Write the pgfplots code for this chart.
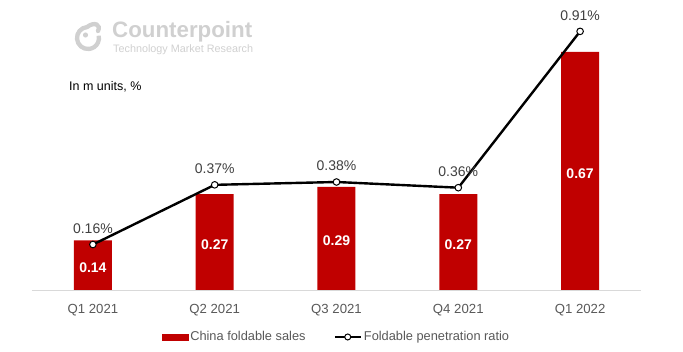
\documentclass[border=0pt]{standalone}
\usepackage{pgfplots}
\pgfplotsset{compat=1.18}
\usepackage{fontspec}
\setmainfont{Liberation Sans}
\definecolor{barred}{HTML}{C00000}
\definecolor{txtgray}{HTML}{404040}
\definecolor{lblgray}{HTML}{595959}
\definecolor{axgray}{HTML}{D9D9D9}
\definecolor{logogray}{HTML}{D0D0D0}
\begin{document}
\begin{tikzpicture}[x=1pt,y=1pt]
\path[use as bounding box] (0,0) rectangle (683,351);
% logo
\draw[logogray, line width=4.3pt] (88,313) ++(95:11) arc (95:372:11);
\draw[logogray, line width=4.3pt, line cap=round] (88,313) ++(95:11) .. controls (95,330) and (101,326) .. (98,320);
\fill[logogray] (85.5,316) circle (2.6);
\node[anchor=west, text=logogray, font=\fontsize{22.3}{25}\selectfont\bfseries, inner sep=0pt] at (112,319) {Counterpoint};
\node[anchor=west, text=logogray, font=\fontsize{10.8}{12}\selectfont, inner sep=0pt] at (113,301) {Technology Market Research};
\node[anchor=west, font=\fontsize{12.5}{14}\selectfont, inner sep=0pt] at (69,264) {In m units, \%};
\begin{axis}[
  at={(32pt,61pt)}, anchor=south west,
  scale only axis, width=609pt, height=270pt,
  xmin=-0.5, xmax=4.5, ymin=0, ymax=0.76,
  axis y line=none, axis x line*=bottom,
  x axis line style={axgray, line width=0.8pt, -},
  xtick={0,1,2,3,4},
  xticklabels={Q1 2021,Q2 2021,Q3 2021,Q4 2021,Q1 2022},
  xtick style={draw=none},
  xticklabel style={text=lblgray, font=\fontsize{13.2}{15}\selectfont, yshift=-11pt},
  major tick length=0pt,
  ybar, bar width=38pt,
  visualization depends on={rawy \as \rawy},
  nodes near coords,
  nodes near coords style={anchor=center, text=white, font=\fontsize{14}{16}\selectfont\bfseries,
    shift={(axis direction cs:0,-\rawy/2)}, yshift=-2.5pt, /pgf/number format/assume math mode=true, /pgf/number format/fixed, /pgf/number format/precision=2, /pgf/number format/fixed zerofill},
  clip=false,
]
\addplot[fill=barred, draw=none] coordinates {(0,0.14) (1,0.27) (2,0.29) (3,0.27) (4,0.67)};
\end{axis}
\begin{axis}[
  at={(32pt,61pt)}, anchor=south west,
  scale only axis, width=609pt, height=270pt,
  xmin=-0.5, xmax=4.5, ymin=0, ymax=0.95,
  axis lines=none,
  clip=false,
  nodes near coords,
  point meta=explicit symbolic,
  nodes near coords style={anchor=center, text=txtgray, font=\fontsize{14}{16}\selectfont, yshift=16pt},
  legend style={at={(0.5,-0.174)}, anchor=center, draw=none, legend columns=2,
    font=\fontsize{12.8}{14}\selectfont, text=lblgray,
    /tikz/every even column/.append style={column sep=26pt}},
]
\addlegendimage{area legend, legend image code/.code={\fill[barred] (0pt,-3pt) rectangle (26pt,3pt);}}
\addlegendentry{China foldable sales}
\addplot[black, line width=2.4pt, mark=*, mark size=3.3pt, mark options={fill=white, draw=black, line width=1pt},
  legend image code/.code={\draw[black, line width=2.4pt] (0pt,0pt) -- (26pt,0pt); \draw[black, fill=white, line width=1pt] (13pt,0pt) circle (3pt);}]
  table[meta=label] {
x y label
0 0.16 0.16\%
1 0.37 0.37\%
2 0.38 0.38\%
3 0.36 0.36\%
4 0.91 0.91\%
};
\addlegendentry{Foldable penetration ratio}
\end{axis}
\end{tikzpicture}
\end{document}
